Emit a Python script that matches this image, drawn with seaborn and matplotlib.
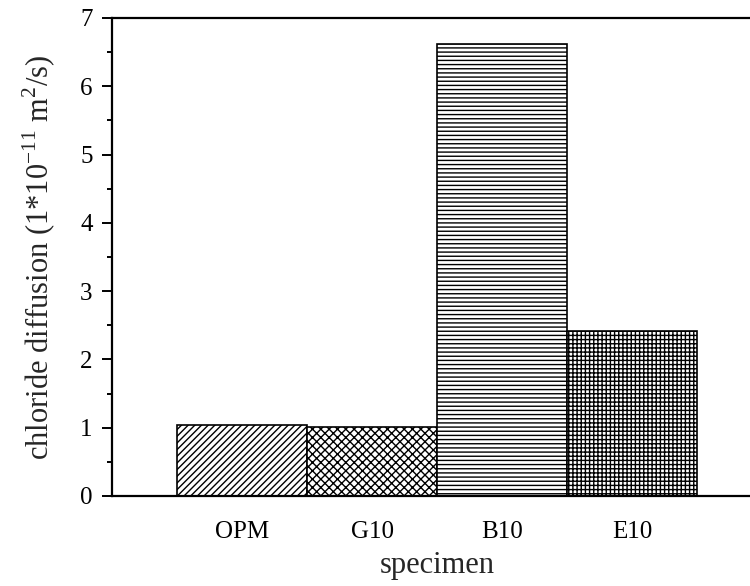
import matplotlib
matplotlib.use("Agg")
import matplotlib.pyplot as plt
from matplotlib.ticker import MultipleLocator
import seaborn as sns
import pandas as pd

# Chloride diffusion coefficients per specimen (units of 1e-11 m^2/s)
specimens = ["OPM", "G10", "B10", "E10"]
diffusion = [1.04, 1.01, 6.62, 2.42]
hatches = ["/////", "xxxx", "----", "++++"]

sns.set_theme(style="ticks")
plt.rcParams["font.family"] = ["Liberation Serif", "DejaVu Serif"]
plt.rcParams["mathtext.fontset"] = "custom"
plt.rcParams["mathtext.rm"] = "Liberation Serif"
plt.rcParams["hatch.linewidth"] = 1.0
plt.rcParams["hatch.color"] = "black"

df = pd.DataFrame({"specimen": specimens, "diffusion": diffusion})

fig = plt.figure(figsize=(7.5, 5.86), dpi=100)
ax = fig.add_axes([112 / 750, 90 / 586, 650 / 750, 478 / 586])

sns.barplot(data=df, x="specimen", y="diffusion", color="white",
            edgecolor="black", linewidth=1.2, width=1.0, saturation=1,
            ax=ax)
for patch, h in zip(ax.patches, hatches):
    patch.set_hatch(h)
    patch.set_facecolor("white")
    patch.set_edgecolor("black")

ax.set_xlim(-1.0, 4.0)
ax.set_ylim(0, 7)
ax.yaxis.set_major_locator(MultipleLocator(1))
ax.yaxis.set_minor_locator(MultipleLocator(0.5))

for side in ["left", "bottom", "top"]:
    ax.spines[side].set_linewidth(1.6)
    ax.spines[side].set_color("black")
ax.spines["right"].set_visible(False)

ax.tick_params(axis="y", which="major", direction="out", length=7,
               width=1.4, labelsize=18, pad=7, colors="black")
ax.tick_params(axis="y", which="minor", direction="out", length=3.5,
               width=1.4, colors="black")
ax.tick_params(axis="x", which="both", length=0, labelsize=18, pad=18,
               colors="black")

ax.set_xlabel("specimen", fontsize=22, labelpad=6)
ax.set_ylabel(r"chloride diffusion (1*10$^{\mathregular{-11}}$ m$^{\mathregular{2}}$/s)",
              fontsize=22, labelpad=16)

fig.savefig("out.png", dpi=100)
